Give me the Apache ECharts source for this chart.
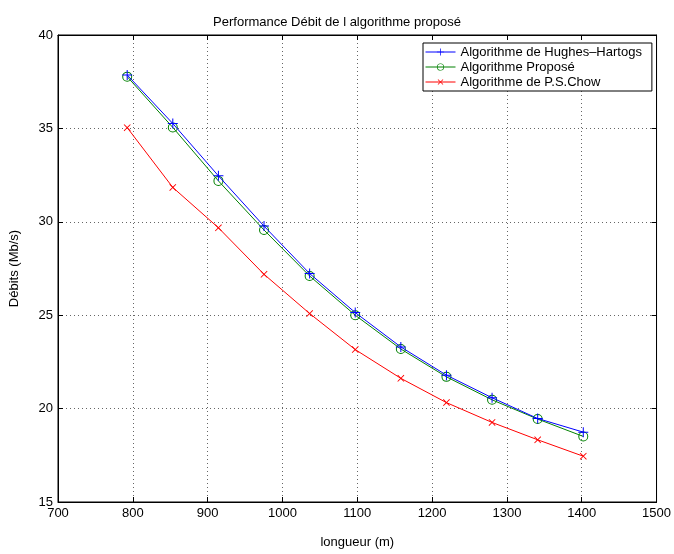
<!DOCTYPE html>
<html><head><meta charset="utf-8">
<script src="https://cdn.jsdelivr.net/npm/echarts@6/dist/echarts.min.js"></script>
<style>html,body{margin:0;padding:0;background:#fff}#c{width:674px;height:554px}</style>
</head><body><div id="c"></div>
<script>
// Lengths (m): 2600..4600 ft in 200 ft steps
const lengths = [792.48, 853.44, 914.4, 975.36, 1036.32, 1097.28, 1158.24, 1219.2, 1280.16, 1341.12, 1402.08];
const hughesHartogs = [37.86, 35.26, 32.46, 29.77, 27.23, 25.14, 23.30, 21.79, 20.58, 19.47, 18.74];
const propose = [37.77, 35.05, 32.19, 29.56, 27.10, 25.00, 23.19, 21.70, 20.47, 19.44, 18.51];
const chow = [35.04, 31.84, 29.68, 27.19, 25.09, 23.16, 21.62, 20.32, 19.26, 18.33, 17.45];
const seriesNames = ['Algorithme de Hughes\u2013Hartogs', 'Algorithme Proposé', 'Algorithme de P.S.Chow'];
const xTicks = {min: 700, max: 1500, interval: 100};
const yTicks = {min: 15, max: 40, interval: 5};

const font = 'Liberation Sans, Arial, Helvetica, sans-serif';
const plus = 'path://M4.5,0h1v4.5h4.5v1h-4.5v4.5h-1v-4.5h-4.5v-1h4.5z';
const ring = 'path://M5,0A5,5,0,1,1,4.99,0ZM5,1A4,4,0,1,0,5.01,1Z';
const pairs = arr => arr.map((v, i) => [lengths[i], v]);

const chart = echarts.init(document.getElementById('c'), null, {renderer: 'canvas'});
const splitLine = {show: true, lineStyle: {color: '#666', type: [1, 3], width: 1}};
const axisLine = {show: true, lineStyle: {color: '#000', width: 1}};
const tick = {show: true, inside: true, length: 5, lineStyle: {color: '#000'}};
const label = {color: '#000', fontFamily: font, fontSize: 13};
chart.setOption({
  animation: false,
  title: {text: 'Performance Débit de l algorithme proposé', left: 'center', top: 11,
    textStyle: {fontFamily: font, fontSize: 13, fontWeight: 'normal', color: '#000'}},
  grid: {left: 58, right: 15, top: 35, bottom: 44, show: true, borderColor: '#000', borderWidth: 1},
  legend: {
    orient: 'vertical', left: 423, top: 43, padding: [2, 10, 2, 2], itemGap: 1,
    itemWidth: 30, itemHeight: 9, borderColor: '#000', borderWidth: 1, backgroundColor: '#fff',
    lineStyle: {width: 1},
    textStyle: {fontFamily: font, fontSize: 13, lineHeight: 14, color: '#000'},
    data: seriesNames
  },
  xAxis: [
    {type: 'value', min: xTicks.min, max: xTicks.max, interval: xTicks.interval,
      name: 'longueur (m)', nameLocation: 'middle', nameGap: 34,
      nameTextStyle: {fontFamily: font, fontSize: 13, color: '#000'},
      axisLine, axisTick: tick, splitLine, axisLabel: {...label, margin: 5, formatter: v => String(v)}},
    {type: 'value', position: 'top', min: xTicks.min, max: xTicks.max, interval: xTicks.interval,
      axisLine, axisTick: tick, splitLine: {show: false}, axisLabel: {show: false}}
  ],
  yAxis: [
    {type: 'value', min: yTicks.min, max: yTicks.max, interval: yTicks.interval,
      name: 'Débits (Mb/s)', nameLocation: 'middle', nameGap: 37, nameRotate: 90,
      nameTextStyle: {fontFamily: font, fontSize: 13, color: '#000'},
      axisLine, axisTick: tick, splitLine, axisLabel: {...label, margin: 5}},
    {type: 'value', position: 'right', min: yTicks.min, max: yTicks.max, interval: yTicks.interval,
      axisLine, axisTick: tick, splitLine: {show: false}, axisLabel: {show: false}}
  ],
  series: [
    {name: seriesNames[0], type: 'line', data: pairs(hughesHartogs), symbol: plus, symbolSize: 10,
      showAllSymbol: true, lineStyle: {color: '#0000ff', width: 1}, itemStyle: {color: '#0000ff'}, z: 3},
    {name: seriesNames[1], type: 'line', data: pairs(propose), symbol: ring, symbolSize: 10,
      showAllSymbol: true, lineStyle: {color: '#008000', width: 1},
      itemStyle: {color: '#008000'}, z: 2},
    {name: seriesNames[2], type: 'line', data: pairs(chow), symbol: plus, symbolSize: 9, symbolRotate: 45,
      showAllSymbol: true, lineStyle: {color: '#ff0000', width: 1}, itemStyle: {color: '#ff0000'}, z: 2}
  ]
});
</script></body></html>
